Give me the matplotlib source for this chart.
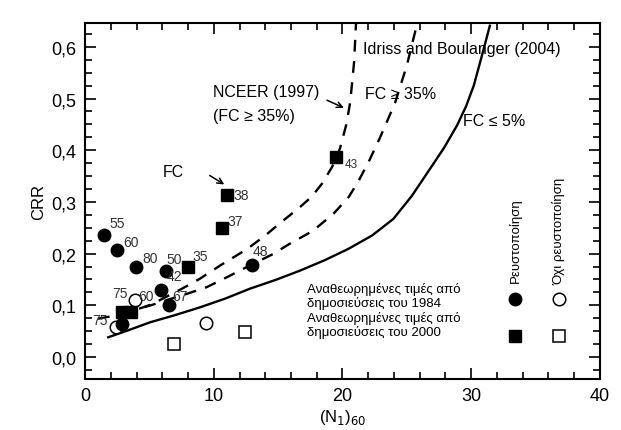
import matplotlib
matplotlib.use("Agg")
import matplotlib.pyplot as plt
from matplotlib.ticker import MultipleLocator, FuncFormatter

plt.rcParams['font.family'] = ['Liberation Sans', 'DejaVu Sans']

# curves
nceer_x = [1.0, 3.0, 5.2, 7.6, 8.9, 10.5, 12.6, 14.0, 15.1, 16.7, 17.6, 18.4, 19.2, 19.8, 20.3, 20.6, 20.9, 21.05]
nceer_y = [0.074, 0.083, 0.102, 0.133, 0.151, 0.177, 0.209, 0.235, 0.258, 0.290, 0.310, 0.335, 0.368, 0.403, 0.450, 0.493, 0.57, 0.645]

ib_fines_x = [3.0, 5.0, 6.6, 7.9, 9.45, 11.0, 12.8, 14.6, 15.9, 17.7, 19.3, 20.5, 21.3, 22.1, 22.8, 23.4, 24.1, 25.0, 25.8]
ib_fines_y = [0.086, 0.099, 0.112, 0.122, 0.135, 0.154, 0.177, 0.199, 0.219, 0.244, 0.277, 0.310, 0.343, 0.381, 0.418, 0.452, 0.493, 0.564, 0.645]

ib_clean_x = [1.8, 3.4, 5.05, 7.0, 8.93, 10.9, 12.8, 14.8, 16.7, 18.6, 20.45, 22.3, 23.95, 25.4, 26.8, 27.9, 28.9, 29.6, 30.2, 30.8, 31.45]
ib_clean_y = [0.038, 0.052, 0.067, 0.081, 0.096, 0.113, 0.132, 0.149, 0.167, 0.187, 0.209, 0.235, 0.267, 0.312, 0.364, 0.405, 0.448, 0.485, 0.525, 0.580, 0.641]

# case histories
liq_1984_x = [1.45, 2.5, 3.96, 6.27, 5.9, 6.55, 2.85, 12.95]
liq_1984_y = [0.235, 0.207, 0.174, 0.166, 0.130, 0.100, 0.064, 0.177]
liq_1984_lab = ['55', '60', '80', '50', '42', '67', '75', '48']

nonliq_1984_x = [3.9, 2.4, 9.4]
nonliq_1984_y = [0.110, 0.057, 0.066]
nonliq_1984_lab = ['75', '', '']

liq_2000_x = [2.85, 3.6, 8.03, 10.66, 11.0, 19.5]
liq_2000_y = [0.086, 0.086, 0.175, 0.249, 0.314, 0.386]
liq_2000_lab = ['', '60', '35', '37', '38', '43']

nonliq_2000_x = [6.9, 12.43]
nonliq_2000_y = [0.025, 0.049]

legend_lines = ['Αναθεωρημένες τιμές από', 'δημοσιεύσεις του 1984',
                'Αναθεωρημένες τιμές από', 'δημοσιεύσεις του 2000']

fig = plt.figure(figsize=(6.21, 4.31), dpi=100)
ax = fig.add_axes([0.137, 0.118, 0.829, 0.826])

ax.plot(nceer_x, nceer_y, color='black', lw=1.7, ls=(0, (5, 4)), zorder=2)
ax.plot(ib_fines_x, ib_fines_y, color='black', lw=1.7, ls=(0, (5, 4)), zorder=2)
ax.plot(ib_clean_x, ib_clean_y, color='black', lw=1.7, zorder=2)

ax.plot(nonliq_1984_x, nonliq_1984_y, 'o', ms=9, mfc='white', mec='black', mew=1.1, zorder=3)
ax.plot(nonliq_2000_x, nonliq_2000_y, 's', ms=8, mfc='white', mec='black', mew=1.1, zorder=3)
ax.plot(liq_1984_x, liq_1984_y, 'o', ms=9, color='black', zorder=4)
ax.plot(liq_2000_x, liq_2000_y, 's', ms=8, color='black', zorder=4)

off_1984 = [(13, 12), (14, 8), (14, 9), (8, 12), (13, 14), (11, 9), (-22, 4), (9, 14)]
for x, y, t, o in zip(liq_1984_x, liq_1984_y, liq_1984_lab, off_1984):
    ax.annotate(t, (x, y), xytext=o, textcoords='offset pixels', ha='center', va='center',
                fontsize=10, color='#333333', zorder=5)
off_n1984 = [(-15, 7), (0, 0), (0, 0)]
for x, y, t, o in zip(nonliq_1984_x, nonliq_1984_y, nonliq_1984_lab, off_n1984):
    ax.annotate(t, (x, y), xytext=o, textcoords='offset pixels', ha='center', va='center',
                fontsize=10, color='#333333', zorder=5)
off_2000 = [(0, 0), (15, 16), (12, 11), (13, 7), (15, 0), (15, -7)]
for x, y, t, o in zip(liq_2000_x, liq_2000_y, liq_2000_lab, off_2000):
    ax.annotate(t, (x, y), xytext=o, textcoords='offset pixels', ha='center', va='center',
                fontsize=8.5 if t == '43' else 10, color='#333333', zorder=5)

# curve labels
ax.text(21.6, 0.596, 'Idriss and Boulanger (2004)', fontsize=11.5, va='center')
ax.text(9.95, 0.513, 'NCEER (1997)', fontsize=11.5, va='center')
ax.text(9.95, 0.467, '(FC ≥ 35%)', fontsize=11.5, va='center')
ax.text(21.75, 0.509, 'FC ≥ 35%', fontsize=11.5, va='center')
ax.text(29.4, 0.457, 'FC ≤ 5%', fontsize=11.5, va='center')
ax.text(6.85, 0.358, 'FC', fontsize=11.5, ha='center', va='center')
ax.annotate('', xy=(11.0, 0.331), xytext=(9.5, 0.354),
            arrowprops=dict(arrowstyle='->', lw=1.1, color='black'))
ax.annotate('', xy=(20.3, 0.480), xytext=(18.6, 0.499),
            arrowprops=dict(arrowstyle='->', lw=1.1, color='black'))

# legend block
for yy, t in zip([0.133, 0.106, 0.077, 0.049], legend_lines):
    ax.text(17.25, yy, t, fontsize=9.5, va='center')
ax.plot([33.4], [0.112], 'o', ms=9, color='black')
ax.plot([36.8], [0.112], 'o', ms=9, mfc='white', mec='black', mew=1.1)
ax.plot([33.4], [0.041], 's', ms=8, color='black')
ax.plot([36.8], [0.041], 's', ms=8, mfc='white', mec='black', mew=1.1)
ax.text(33.4, 0.145, 'Ρευστοποίηση', rotation=90, fontsize=9.5, ha='center', va='bottom')
ax.text(36.8, 0.141, 'Όχι ρευστοποίηση', rotation=90, fontsize=9.5, ha='center', va='bottom')

ax.set_xlim(0, 40)
ax.set_ylim(-0.043, 0.646)
ax.xaxis.set_major_locator(MultipleLocator(10))
ax.xaxis.set_minor_locator(MultipleLocator(2))
ax.yaxis.set_major_locator(MultipleLocator(0.1))
ax.yaxis.set_minor_locator(MultipleLocator(0.025))
ax.yaxis.set_major_formatter(FuncFormatter(lambda v, p: f"{v:.1f}".replace('.', ',')))
ax.tick_params(which='both', direction='in', top=True, right=True, width=1.2)
ax.tick_params(which='major', length=8, labelsize=13, pad=6)
ax.tick_params(which='minor', length=5)
for s in ax.spines.values():
    s.set_linewidth(1.5)

ax.set_xlabel('(N$_1$)$_{60}$', fontsize=12, labelpad=2)
ax.set_ylabel('CRR', fontsize=12, labelpad=4)

fig.savefig('out.png', dpi=100)
